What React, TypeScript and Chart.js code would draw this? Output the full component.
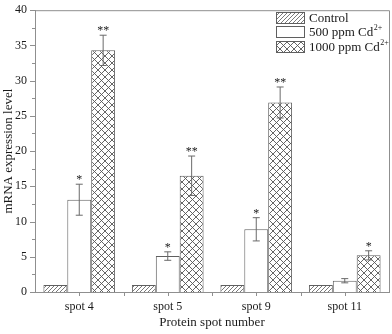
import React, { useEffect, useRef } from 'react';
import { Chart, registerables } from 'chart.js';

Chart.register(...registerables);

const categories = ['spot 4', 'spot 5', 'spot 9', 'spot 11'];
const seriesNames = ['Control', '500 ppm Cd', '1000 ppm Cd'];
const seriesSup = ['', '2+', '2+'];
const controlValues = [1, 1, 1, 1];
const controlErrors = [0, 0, 0, 0];
const cd500Values = [13.1, 5.1, 8.9, 1.6];
const cd500Errors = [2.2, 0.6, 1.65, 0.3];
const cd1000Values = [34.3, 16.5, 26.9, 5.2];
const cd1000Errors = [2.15, 2.8, 2.2, 0.65];
const controlMarks = ['', '', '', ''];
const cd500Marks = ['*', '*', '*', ''];
const cd1000Marks = ['**', '**', '**', '*'];
const yMin = 0;
const yMax = 40;
const yStep = 5;
const xTitle = 'Protein spot number';
const yTitle = 'mRNA expression level';

const FONT = '"Liberation Serif", "Times New Roman", serif';
const AXIS = '#8f8f8f';
const EDGE = '#5f5f5f';
const TEXT = '#1a1a1a';

function makeHatch(): CanvasPattern | string {
  const c = document.createElement('canvas');
  c.width = 4;
  c.height = 4;
  const g = c.getContext('2d');
  if (!g) return '#fff';
  g.fillStyle = '#ffffff';
  g.fillRect(0, 0, 4, 4);
  g.strokeStyle = '#7a7a7a';
  g.lineWidth = 1;
  g.beginPath();
  g.moveTo(-1, 5);
  g.lineTo(5, -1);
  g.moveTo(-1, 1);
  g.lineTo(1, -1);
  g.moveTo(3, 5);
  g.lineTo(5, 3);
  g.stroke();
  const p = g.createPattern(c, 'repeat');
  return p || '#fff';
}

function makeCross(): CanvasPattern | string {
  const s = 7;
  const c = document.createElement('canvas');
  c.width = s;
  c.height = s;
  const g = c.getContext('2d');
  if (!g) return '#fff';
  g.fillStyle = '#ffffff';
  g.fillRect(0, 0, s, s);
  g.strokeStyle = '#555555';
  g.lineWidth = 0.9;
  g.beginPath();
  g.moveTo(0, 0);
  g.lineTo(s, s);
  g.moveTo(s, 0);
  g.lineTo(0, s);
  g.stroke();
  const p = g.createPattern(c, 'repeat');
  return p || '#fff';
}

export default function App() {
  const ref = useRef<HTMLCanvasElement | null>(null);

  useEffect(() => {
    const canvas = ref.current;
    if (!canvas) return;
    const hatch = makeHatch();
    const cross = makeCross();
    const fills = [hatch, '#ffffff', cross];
    const errors = [controlErrors, cd500Errors, cd1000Errors];
    const marks = [controlMarks, cd500Marks, cd1000Marks];

    const decor = {
      id: 'decor',
      afterDatasetsDraw(chart: any) {
        const ctx = chart.ctx;
        const y = chart.scales.y;
        ctx.save();
        chart.data.datasets.forEach((ds: any, i: number) => {
          const meta = chart.getDatasetMeta(i);
          meta.data.forEach((bar: any, j: number) => {
            const v = ds.data[j];
            const e = errors[i][j];
            const top = y.getPixelForValue(v + e);
            if (e > 0) {
              const bot = y.getPixelForValue(v - e);
              ctx.strokeStyle = '#6a6a6a';
              ctx.lineWidth = 1;
              ctx.beginPath();
              ctx.moveTo(bar.x, top);
              ctx.lineTo(bar.x, bot);
              ctx.moveTo(bar.x - 3.5, top);
              ctx.lineTo(bar.x + 3.5, top);
              ctx.moveTo(bar.x - 3.5, bot);
              ctx.lineTo(bar.x + 3.5, bot);
              ctx.stroke();
            }
            const m = marks[i][j];
            if (m) {
              ctx.fillStyle = TEXT;
              ctx.font = `12px ${FONT}`;
              ctx.textAlign = 'center';
              ctx.textBaseline = 'alphabetic';
              ctx.fillText(m, bar.x, top - 1);
            }
          });
        });
        ctx.restore();
      },
      afterDraw(chart: any) {
        const ctx = chart.ctx;
        const y = chart.scales.y;
        const x = chart.scales.x;
        const ca = chart.chartArea;
        ctx.save();
        ctx.strokeStyle = AXIS;
        ctx.lineWidth = 1;
        ctx.beginPath();
        ctx.moveTo(ca.left, ca.top + 0.5);
        ctx.lineTo(ca.right + 0.5, ca.top + 0.5);
        ctx.lineTo(ca.right + 0.5, ca.bottom);
        for (let v = yMin; v <= yMax + 1e-9; v += yStep / 2) {
          const py = Math.round(y.getPixelForValue(v)) + 0.5;
          const major = Math.abs(v / yStep - Math.round(v / yStep)) < 1e-6;
          ctx.moveTo(ca.left, py);
          ctx.lineTo(ca.left - (major ? 5 : 3), py);
        }
        const n = categories.length;
        for (let k = 0; k < n; k++) {
          const px = Math.round(x.getPixelForValue(k)) + 0.5;
          ctx.moveTo(px, ca.bottom);
          ctx.lineTo(px, ca.bottom + 4);
          if (k < n - 1) {
            const bx = Math.round((x.getPixelForValue(k) + x.getPixelForValue(k + 1)) / 2) + 0.5;
            ctx.moveTo(bx, ca.bottom);
            ctx.lineTo(bx, ca.bottom + 4);
          }
        }
        ctx.stroke();

        ctx.fillStyle = TEXT;
        ctx.font = `13px ${FONT}`;
        ctx.textAlign = 'center';
        ctx.textBaseline = 'middle';
        ctx.fillText(xTitle, (ca.left + ca.right) / 2, 323);
        ctx.save();
        ctx.translate(9, (ca.top + ca.bottom) / 2);
        ctx.rotate(-Math.PI / 2);
        ctx.fillText(yTitle, 0, 0);
        ctx.restore();

        const sx = ca.right - 113;
        const sw = 28;
        const sh = 11;
        const rows = [12, 26, 41];
        seriesNames.forEach((name, i) => {
          const ry = rows[i];
          ctx.fillStyle = fills[i] as any;
          ctx.fillRect(sx, ry, sw, sh);
          ctx.strokeStyle = EDGE;
          ctx.lineWidth = 1;
          ctx.strokeRect(sx + 0.5, ry + 0.5, sw, sh);
          ctx.fillStyle = TEXT;
          ctx.font = `13px ${FONT}`;
          ctx.textAlign = 'left';
          ctx.textBaseline = 'alphabetic';
          const tx = sx + 33;
          const base = ry + sh - 1;
          ctx.fillText(name, tx, base);
          if (seriesSup[i]) {
            const w = ctx.measureText(name).width;
            ctx.font = `8px ${FONT}`;
            ctx.fillText(seriesSup[i], tx + w + 0.5, base - 6);
          }
        });
        ctx.restore();
      },
    };

    const chart = new Chart(canvas, {
      type: 'bar',
      data: {
        labels: categories,
        datasets: [
          { label: seriesNames[0], data: controlValues, backgroundColor: fills[0] as any, borderColor: EDGE, borderWidth: 1 },
          { label: seriesNames[1], data: cd500Values, backgroundColor: fills[1] as any, borderColor: EDGE, borderWidth: 1 },
          { label: seriesNames[2], data: cd1000Values, backgroundColor: fills[2] as any, borderColor: EDGE, borderWidth: 1 },
        ],
      },
      options: {
        responsive: false,
        animation: false,
        devicePixelRatio: 1,
        layout: { padding: { top: 5, right: 3, left: 0, bottom: 0 } },
        datasets: { bar: { categoryPercentage: 0.81, barPercentage: 1.0 } },
        plugins: { legend: { display: false }, tooltip: { enabled: false } },
        scales: {
          x: {
            grid: { display: false, drawTicks: false },
            border: { display: true, color: AXIS },
            ticks: { color: TEXT, font: { family: FONT, size: 12 }, padding: 8 },
            afterFit: (s: any) => { s.height = 42; },
          },
          y: {
            min: yMin,
            max: yMax,
            grid: { display: false, drawTicks: true, tickLength: 5 },
            border: { display: true, color: AXIS },
            ticks: { stepSize: yStep, color: TEXT, font: { family: FONT, size: 12 }, padding: 3 },
            afterFit: (s: any) => { s.width = 35; },
          },
        },
      },
      plugins: [decor],
    });
    return () => chart.destroy();
  }, []);

  return (
    <div style={{ position: 'fixed', left: 0, top: 0, width: 392, height: 334, background: '#fff' }}>
      <canvas ref={ref} width={392} height={334} />
    </div>
  );
}
